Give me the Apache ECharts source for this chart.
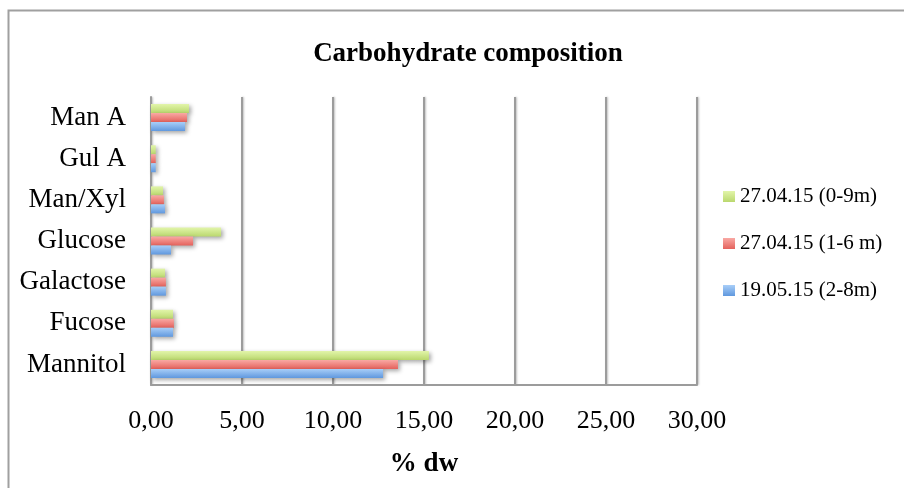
<!DOCTYPE html>
<html>
<head>
<meta charset="utf-8">
<script src="https://cdn.jsdelivr.net/npm/echarts@6/dist/echarts.min.js"></script>
<style>
  html, body { margin: 0; padding: 0; background: #fff; }
  #chart { width: 904px; height: 488px; }
</style>
</head>
<body>
<div id="chart"></div>
<script>
// Carbohydrate composition (% of dry weight) per sampling
const categories = ['Mannitol', 'Fucose', 'Galactose', 'Glucose', 'Man/Xyl', 'Gul A', 'Man A'];
const seriesNames = ['27.04.15 (0-9m)', '27.04.15 (1-6 m)', '19.05.15 (2-8m)'];
const apr27_09 = [15.27, 1.21, 0.77, 3.85, 0.66, 0.26, 2.09];
const apr27_16 = [13.57, 1.26, 0.82, 2.31, 0.71, 0.26, 1.98];
const may19 = [12.75, 1.21, 0.82, 1.10, 0.77, 0.26, 1.87];
const xTicks = [0, 5, 10, 15, 20, 25, 30];

const FONT = '"Liberation Serif", "DejaVu Serif", serif';

function grad(top, bottom) {
  return new echarts.graphic.LinearGradient(0, 0, 0, 1, [
    { offset: 0, color: top },
    { offset: 1, color: bottom }
  ]);
}

// green, red, blue (top to bottom inside each category)
const fills = [
  grad('#e2f5aa', '#bad86e'),
  grad('#f9a9a4', '#e4625c'),
  grad('#a8cef8', '#6098de')
];
const valueSets = [apr27_09, apr27_16, may19];

const chart = echarts.init(document.getElementById('chart'), null, { renderer: 'canvas' });

chart.setOption({
  animation: false,
  backgroundColor: '#ffffff',
  title: {
    text: 'Carbohydrate composition',
    left: 463,
    top: 36,
    textAlign: 'center',
    textStyle: { fontFamily: FONT, fontWeight: 'bold', fontSize: 27, color: '#000' }
  },
  legend: {
    orient: 'vertical',
    left: 718,
    top: 181,
    itemWidth: 12,
    itemHeight: 11,
    itemGap: 26,
    icon: 'rect',
    data: seriesNames,
    textStyle: { fontFamily: FONT, fontSize: 21, color: '#000' }
  },
  grid: { left: 151, top: 97, width: 546, height: 288, containLabel: false },
  xAxis: {
    type: 'value',
    min: xTicks[0],
    max: xTicks[xTicks.length - 1],
    interval: xTicks[1] - xTicks[0],
    name: '% dw',
    nameLocation: 'middle',
    nameGap: 66,
    nameTextStyle: { fontFamily: FONT, fontWeight: 'bold', fontSize: 27, color: '#000' },
    axisLine: { show: true, lineStyle: { color: '#9c9c9c', width: 2 } },
    axisTick: { show: false },
    splitLine: { show: true, lineStyle: { color: '#9c9c9c', width: 2, shadowColor: 'rgba(0,0,0,0.25)', shadowBlur: 2, shadowOffsetX: 1 } },
    axisLabel: {
      margin: 23,
      fontFamily: FONT,
      fontSize: 26,
      color: '#000',
      formatter: v => v.toFixed(2).replace('.', ',')
    }
  },
  yAxis: {
    type: 'category',
    data: categories,
    axisLine: { show: true, lineStyle: { color: '#9c9c9c', width: 2 } },
    axisTick: { show: false },
    splitLine: { show: false },
    axisLabel: { margin: 25, fontFamily: FONT, fontSize: 27, color: '#000' }
  },
  series: valueSets.map((vals, i) => ({
    name: seriesNames[i],
    type: 'bar',
    data: vals,
    barWidth: 9,
    barGap: '0%',
    itemStyle: {
      color: fills[i],
      shadowColor: 'rgba(0,0,0,0.35)',
      shadowBlur: 4,
      shadowOffsetX: 2,
      shadowOffsetY: 2
    }
  })),
  graphic: [{
    type: 'rect',
    left: 6,
    top: 8,
    shape: { x: 0, y: 0, width: 960, height: 520 },
    style: { fill: 'none', stroke: '#a0a0a0', lineWidth: 2 },
    silent: true,
    z: -1
  }]
});
</script>
</body>
</html>
